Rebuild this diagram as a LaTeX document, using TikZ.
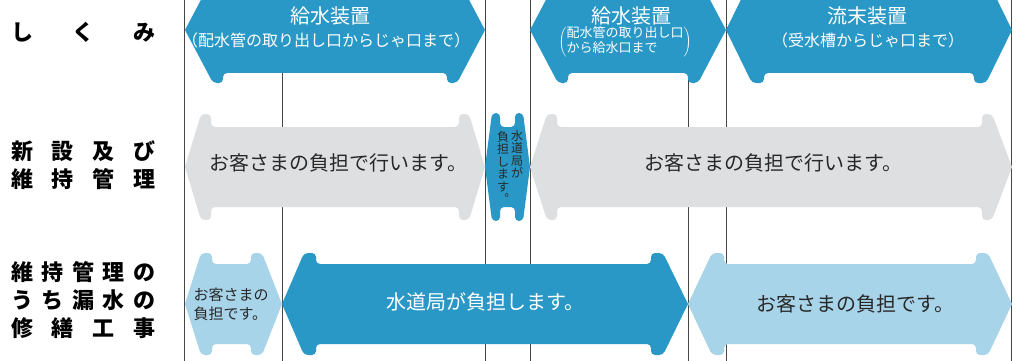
\documentclass[tikz,border=0pt]{standalone}
\usepackage{fontspec}
\newfontfamily\jp{Noto Sans CJK JP}
\definecolor{darkblue}{RGB}{42,152,198}
\definecolor{lightblue}{RGB}{168,212,233}
\definecolor{grayfill}{RGB}{222,223,225}
\definecolor{linegray}{RGB}{70,70,70}
\definecolor{txt}{RGB}{40,40,40}
\tikzset{
  darkarrow/.style={fill=darkblue},
  lightarrow/.style={fill=lightblue},
  grayarrow/.style={fill=grayfill},
  vline/.style={draw=linegray, line width=0.9pt},
  lbl/.style={anchor=west, inner sep=0pt, text=black, font=\jp\bfseries\fontsize{22}{22}\selectfont},
  wbig/.style={inner sep=0pt, text=white, font=\jp\fontsize{20}{21}\selectfont},
  wsub/.style={inner sep=0pt, text=white, font=\jp\fontsize{16}{18}\selectfont},
  dtxt/.style={inner sep=0pt, text=txt, font=\jp\fontsize{20}{22}\selectfont},
  vtxt/.style={anchor=north, inner sep=0pt, text=txt, align=center, font=\jp\fontsize{12}{12.5}\selectfont},
}
% #1 style, #2 x0, #3 x1, #4 cy, #5 H, #6 S, #7 Lleft, #8 Lright, #9 barb
\newcommand\dbarrow[9]{%
  \fill[#1] (#2,#4) [rounded corners=4pt]
    -- (#2+#7,#4-#5) -- (#2+#7+#9,#4-#5) -- (#2+#7+#9,#4-#6)
    -- (#3-#8-#9,#4-#6) -- (#3-#8-#9,#4-#5) -- (#3-#8,#4-#5) [sharp corners]
    -- (#3,#4) [rounded corners=4pt]
    -- (#3-#8,#4+#5) -- (#3-#8-#9,#4+#5) -- (#3-#8-#9,#4+#6)
    -- (#2+#7+#9,#4+#6) -- (#2+#7+#9,#4+#5) -- (#2+#7,#4+#5) [sharp corners]
    -- cycle;}
\begin{document}
\begin{tikzpicture}[x=1pt,y=-1pt]
\useasboundingbox (0,0) rectangle (1017,361);
\fill[white] (0,0) rectangle (1017,361);
\clip (0,0) rectangle (1017,361);
% vertical lines
\foreach \xx in {184,282,485,530,688,726,1011}{\draw[vline] (\xx,0) -- (\xx,361);}
% top row
\dbarrow{darkarrow}{185}{485}{30}{53}{43}{28}{28}{10}
\dbarrow{darkarrow}{530}{726}{30}{53}{43}{28}{28}{10}
\dbarrow{darkarrow}{726}{1012}{30}{53}{43}{26}{26}{12}
% middle row
\dbarrow{grayarrow}{185}{485}{167}{53}{40}{16}{16}{10}
\dbarrow{darkarrow}{485}{530}{167}{54}{40}{7}{7}{8}
\dbarrow{grayarrow}{530}{1012}{167}{53}{40}{17}{20}{10}
% bottom row
\dbarrow{lightarrow}{185}{282}{304}{51}{40}{16}{20}{11}
\dbarrow{darkarrow}{282}{688}{304}{51}{40}{22}{25}{12}
\dbarrow{lightarrow}{688}{1012}{304}{51}{40}{24}{24}{12}
% left labels
\node[lbl] (l1) at (11,32) {\makebox[144pt][s]{し\hfill く\hfill み}};
\node[lbl] (l2a) at (11,151) {\makebox[144pt][s]{新\hfill 設\hfill 及\hfill び}};
\node[lbl] (l2b) at (11,179) {\makebox[144pt][s]{維\hfill 持\hfill 管\hfill 理}};
\node[lbl] (l3a) at (11,272) {\makebox[144pt][s]{維\hfill 持\hfill 管\hfill 理\hfill の}};
\node[lbl] (l3b) at (11,300) {\makebox[144pt][s]{う\hfill ち\hfill 漏\hfill 水\hfill の}};
\node[lbl] (l3c) at (11,328) {\makebox[144pt][s]{修\hfill 繕\hfill 工\hfill 事}};
% top texts
\node[wbig] (t1a) at (330,16) {給水装置};
\node[wsub] (t1b) at (326,40) {（配水管の取り出し口からじゃ口まで）};
\node[wbig] (t2a) at (631,16) {給水装置};
\node[inner sep=0pt, text=white, font=\jp\fontsize{13}{14}\selectfont] (t2b) at (625,42)
  {$\left(\begin{tabular}{@{}l@{}}配水管の取り出し口\\から給水口まで\end{tabular}\right)$};
\node[wbig] (t3a) at (867,16) {流末装置};
\node[wsub] (t3b) at (868,40) {（受水槽からじゃ口まで）};
% middle texts
\node[dtxt] (m1) at (338,163) {お客さまの負担で行います。};
\node[dtxt] (m3) at (773,163) {お客さまの負担で行います。};
\node[vtxt] (mv1) at (517,130) {水\\道\\局\\が};
\node[vtxt] (mv2) at (503,131) {負\\担\\し\\ま\\す\\︒};
% bottom texts
\node[inner sep=0pt, text=txt, align=left, font=\jp\fontsize{15}{19}\selectfont] (b1) at (231,304) {お客さまの\\負担です。};
\node[wbig] (b2) at (485,302) {水道局が負担します。};
\node[dtxt] (b3) at (855,304) {お客さまの負担です。};
\end{tikzpicture}
\end{document}
